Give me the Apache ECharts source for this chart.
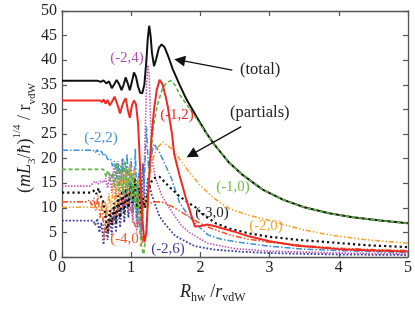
<!DOCTYPE html>
<html><head><meta charset="utf-8">
<script src="https://cdn.jsdelivr.net/npm/echarts@6/dist/echarts.min.js"></script>
<style>html,body{margin:0;padding:0;background:#fff}#c{width:415px;height:309px}</style>
</head><body><div id="c"></div>
<script>
// ---- data ----
const xTicks = [0,1,2,3,4,5];
const yTicks = [0,5,10,15,20,25,30,35,40,45,50];
const total = [[0,35.8],[0.52,35.8],[0.56,35.6],[0.6,35.9],[0.64,35.3],[0.68,35.7],[0.72,34.3],[0.76,35.2],[0.79,36.0],[0.83,35.0],[0.86,33.9],[0.89,35.0],[0.92,36.5],[0.95,35.3],[0.98,33.9],[1.01,35.6],[1.04,37.5],[1.07,36.6],[1.1,34.6],[1.13,33.4],[1.16,33.3],[1.19,35],[1.22,40],[1.24,44.5],[1.26,47],[1.28,45],[1.3,41.5],[1.33,38.8],[1.36,40.2],[1.4,42.5],[1.44,43.2],[1.48,42.7],[1.53,41],[1.6,38.2],[1.7,35],[1.8,32],[1.94,28.6],[2.08,25.3],[2.2,22.9],[2.42,19.1],[2.6,16.8],[2.9,13.7],[3.2,11.6],[3.5,10.1],[3.86,8.9],[4.2,8.1],[4.6,7.4],[5,6.85]];
const p_m1_2 = [[0,31.8],[0.55,31.8],[0.58,31.5],[0.6,32.0],[0.63,31.2],[0.66,31.9],[0.69,30.8],[0.72,31.5],[0.76,32.6],[0.8,31.0],[0.84,29.2],[0.88,31.2],[0.92,32.3],[0.95,30.0],[0.98,28.3],[1.01,30.8],[1.04,31.8],[1.07,31.0],[1.1,27],[1.13,18],[1.16,8],[1.19,3],[1.22,5],[1.25,14],[1.29,23.8],[1.33,30],[1.37,34],[1.41,36],[1.45,35.2],[1.5,32.5],[1.53,30.5],[1.56,27.5],[1.59,25],[1.62,21],[1.7,16.5],[1.8,11.5],[1.92,6.2],[2.0,6.3],[2.1,6.6],[2.2,6.3],[2.35,5.7],[2.5,5.1],[2.7,4.2],[3.0,3.2],[3.4,2.3],[4.0,1.6],[4.5,1.3],[5,1.1]];
const p_m1_0 = [[0,17.8],[0.6,17.8],[0.62,17.4],[0.64,16.2],[0.66,17.6],[0.68,17.0],[0.7,15.4],[0.73,17.2],[0.76,14.2],[0.79,19.2],[0.82,13.5],[0.85,18.6],[0.88,12.8],[0.91,19.5],[0.94,13.2],[0.97,18.0],[1.0,11.5],[1.03,17.0],[1.06,9.5],[1.09,15.5],[1.12,6],[1.15,2],[1.18,0.5],[1.21,4],[1.25,14],[1.28,20],[1.32,26.5],[1.38,31],[1.45,34.2],[1.52,35.6],[1.58,35.8],[1.64,34.8],[1.7,33],[1.8,31],[1.94,28.2],[2.08,25.2],[2.2,22.9],[2.42,19.1],[2.6,16.8],[2.9,13.7],[3.2,11.6],[3.5,10.1],[3.86,8.9],[4.2,8.1],[4.6,7.4],[5,6.85]];
const p_m2_0 = [[0,10.1],[0.45,10.1],[0.5,9.8],[0.54,10.6],[0.58,9.6],[0.62,11.5],[0.65,8.5],[0.68,13],[0.71,9],[0.74,15],[0.77,10],[0.8,16],[0.83,11],[0.86,17.5],[0.89,12],[0.92,18],[0.95,11],[0.98,19],[1.01,12],[1.04,18],[1.07,10],[1.1,16],[1.13,8],[1.16,13],[1.2,10],[1.25,15],[1.3,19],[1.36,22],[1.46,23.4],[1.6,21.8],[1.8,18],[2.0,14.5],[2.2,11.9],[2.42,9.8],[2.7,8.5],[2.9,7.8],[3.2,6.6],[3.5,5.5],[3.9,4.4],[4.4,3.5],[5,2.8]];
const p_m3_0 = [[0,13.1],[0.43,13.1],[0.47,13.6],[0.5,12.8],[0.53,14.0],[0.56,12.4],[0.6,11.0],[0.63,8.0],[0.66,5.2],[0.69,9.5],[0.72,6.5],[0.75,11],[0.78,7.0],[0.81,12.5],[0.84,8.0],[0.87,13.5],[0.9,9.0],[0.93,14],[0.96,10],[0.99,15],[1.02,11],[1.05,16],[1.08,10],[1.11,14],[1.14,9],[1.17,12],[1.2,10],[1.24,13],[1.28,15],[1.32,16],[1.41,16.3],[1.5,15],[1.6,13.6],[1.7,12.3],[1.84,10.9],[1.92,10.2],[2.05,8.5],[2.23,6.8],[2.42,5.8],[2.7,4.8],[3.0,4.1],[3.4,3.5],[3.86,3.0],[4.4,2.4],[5,2.0]];
const p_m2_2 = [[0,21.7],[0.45,21.7],[0.48,21.2],[0.51,21.8],[0.54,20.8],[0.57,21.5],[0.6,20.5],[0.63,21.0],[0.66,19.8],[0.7,20.0],[0.73,18.5],[0.76,19.5],[0.79,16],[0.82,19],[0.85,14],[0.88,20],[0.91,12],[0.94,21],[0.97,11],[1.0,20],[1.03,9],[1.06,22],[1.09,6],[1.12,18],[1.15,3.5],[1.18,12],[1.22,26.5],[1.25,18],[1.28,20],[1.33,23],[1.4,21.5],[1.5,18.5],[1.58,16],[1.7,11],[1.82,8.5],[1.99,6.0],[2.11,4.5],[2.3,3.6],[2.56,3.0],[3,2.2],[3.5,1.6],[4,1.3],[5,0.9]];
const p_m2_4 = [[0,14.4],[0.4,14.4],[0.44,14.9],[0.48,15.4],[0.52,14.8],[0.56,15.5],[0.6,15.1],[0.63,16.0],[0.66,14.0],[0.69,17.0],[0.72,13.0],[0.75,18.5],[0.78,12.0],[0.81,19.5],[0.84,11.0],[0.87,20],[0.9,10],[0.93,18],[0.96,9],[0.99,19],[1.02,7],[1.05,16],[1.08,5],[1.11,13],[1.14,4],[1.17,10],[1.2,24],[1.22,34],[1.24,39],[1.26,37],[1.28,28],[1.3,20],[1.35,16],[1.44,12.5],[1.6,8.9],[1.72,6.5],[1.84,5.0],[2.1,2.8],[2.5,1.7],[3,1.2],[4,0.8],[5,0.6]];
const p_m4_0 = [[0,11.2],[0.36,11.2],[0.4,11.6],[0.43,10.5],[0.46,12.0],[0.49,9.5],[0.52,12.5],[0.55,8.0],[0.58,11.0],[0.61,3.5],[0.64,10.5],[0.67,5.0],[0.7,9.5],[0.73,6.5],[0.76,10.8],[0.79,8.0],[0.82,11.5],[0.85,9.0],[0.88,12.0],[0.92,10.5],[0.96,11.8],[1.0,9.5],[1.04,7],[1.08,5.5],[1.12,7.5],[1.17,10.2],[1.25,10.8],[1.34,11.2],[1.44,11.2],[1.6,10.2],[1.82,8.3],[2.0,6.8],[2.16,5.8],[2.42,4.5],[2.7,3.6],[3.0,3.0],[3.5,2.3],[4.0,1.8],[4.5,1.5],[5,1.3]];
const p_m2_6 = [[0,7.4],[0.45,7.4],[0.48,6.5],[0.51,7.8],[0.54,5.0],[0.57,7.0],[0.6,2.5],[0.63,6.5],[0.66,3.5],[0.69,8.0],[0.72,4.5],[0.75,10],[0.78,5],[0.81,11],[0.84,6],[0.87,12],[0.9,7],[0.93,13],[0.96,8],[0.99,14],[1.02,9],[1.05,15],[1.08,8],[1.11,17],[1.14,6],[1.17,19],[1.2,10],[1.24,16],[1.3,12.5],[1.41,8.2],[1.5,6.5],[1.63,4.4],[1.7,3.8],[1.92,2.2],[2.2,1.5],[2.56,1.1],[3,0.8],[4,0.5],[5,0.4]];
const arrowTotal = [[2.46,38.0],[1.70,40.0]];
const arrowPartials = [[2.59,26.5],[1.87,20.8]];

const serif = "'Liberation Serif','DejaVu Serif',serif";
function ln(name, data, color, type, width){
  return {name, type:'line', data, symbol:'none', showSymbol:false, smooth:false, animation:false,
    lineStyle:{color, type, width}, z:2};
}
const series = [
  ln('(-2,6)', p_m2_6, '#3a3f9e', [1.8,1.8], 1.8),
  ln('(-2,4)', p_m2_4, '#c155bd', [1.5,1.5], 1.6),
  ln('(-2,2)', p_m2_2, '#3d8fd6', [6,2,1.5,2], 1.5),
  ln('(-4,0)', p_m4_0, '#f2582a', [6,2,1.5,2,1.5,2], 1.6),
  ln('(-2,0)', p_m2_0, '#f5a431', [5,2,1.5,2,1.5,2], 1.6),
  ln('(-3,0)', p_m3_0, '#111111', [2.2,3], 2.2),
  ln('total', total, '#111111', 'solid', 2),
  ln('(-1,0)', p_m1_0, '#5cb840', [4,2.5], 1.6),
  ln('(-1,2)', p_m1_2, '#ee2a24', 'solid', 2),
];
series[6].markLine = {silent:true, animation:false, symbol:['none','triangle'], symbolSize:11,
  label:{show:false}, emphasis:{disabled:true},
  lineStyle:{color:'#111', type:'solid', width:1.3},
  itemStyle:{color:'#111'},
  data:[[{coord:arrowTotal[0]},{coord:arrowTotal[1]}],[{coord:arrowPartials[0]},{coord:arrowPartials[1]}]]};

const axisCol = '#555';
function axis(pos, showLabel){
  const isX = pos==='bottom'||pos==='top';
  return {type:'value', position:pos, min:0, max: isX?5:50, interval: isX?1:5,
    axisLine:{show:true, onZero:false, lineStyle:{color:axisCol, width:1.3}},
    axisTick:{show:true, inside:true, length:5, lineStyle:{color:axisCol, width:1.2}},
    splitLine:{show:false},
    axisLabel:{show:showLabel, color:'#222', fontFamily:serif, fontSize:16, margin: isX?3:5,
      formatter: v => (isX?xTicks:yTicks).includes(v) ? String(v) : ''}};
}
const labels = [
  ['(-2,4)',127,58,'#b64fb2'],['(-1,2)',177,115,'#ee2a24'],['(-2,2)',101,138,'#4a96d8'],
  ['(-1,0)',233,187,'#6cc04a'],['(-3,0)',212,213,'#222'],['(-2,0)',266,226,'#f5a431'],
  ['(-4,0)',127,239,'#f2582a'],['(-2,6)',168,249,'#3a3f9e']
];
const graphic = labels.map(l=>({type:'text', x:l[1], y:l[2], z:10,
  style:{text:l[0], fill:l[3], font:'15px '+serif, align:'center', verticalAlign:'middle'}}));
graphic.push({type:'text', x:240, y:70, z:10, style:{text:'(total)', fill:'#222', font:'16.5px '+serif, align:'left', verticalAlign:'middle'}});
graphic.push({type:'text', x:230, y:113, z:10, style:{text:'(partials)', fill:'#222', font:'16.5px '+serif, align:'left', verticalAlign:'middle'}});
graphic.push({type:'text', x:180, y:292, z:10, style:{
  text:'{i|R}{sub|hw}{p| /}{i|r}{sub|vdW}', fill:'#222', align:'left', verticalAlign:'middle',
  rich:{
    i:{fontFamily:serif, fontStyle:'italic', fontSize:18, lineHeight:24, fill:'#222'},
    p:{fontFamily:serif, fontSize:18, lineHeight:24, fill:'#222'},
    sub:{fontFamily:serif, fontSize:12, lineHeight:12, verticalAlign:'bottom', fill:'#222'}
  }}});
graphic.push({type:'text', x:25, y:138, rotation:Math.PI/2, z:10, style:{
  text:'{p|(}{i|mL}{sub|3}{p|/}{i|ħ}{p|)}{sup|1/4}{p| / r}{sub|vdW}', fill:'#222', align:'center', verticalAlign:'middle',
  rich:{
    i:{fontFamily:serif, fontStyle:'italic', fontSize:18, lineHeight:26, fill:'#222'},
    p:{fontFamily:serif, fontSize:18, lineHeight:26, fill:'#222'},
    sub:{fontFamily:serif, fontSize:11, lineHeight:11, verticalAlign:'bottom', fill:'#222'},
    sup:{fontFamily:serif, fontSize:11, lineHeight:11, verticalAlign:'top', fill:'#222'}
  }}});

const chart = echarts.init(document.getElementById('c'), null, {renderer:'canvas'});
chart.setOption({
  animation:false, backgroundColor:'#fff',
  grid:{left:62, right:6, top:11, bottom:52, containLabel:false},
  xAxis:[axis('bottom',true), axis('top',false)],
  yAxis:[axis('left',true), axis('right',false)],
  series, graphic
});
</script></body></html>
